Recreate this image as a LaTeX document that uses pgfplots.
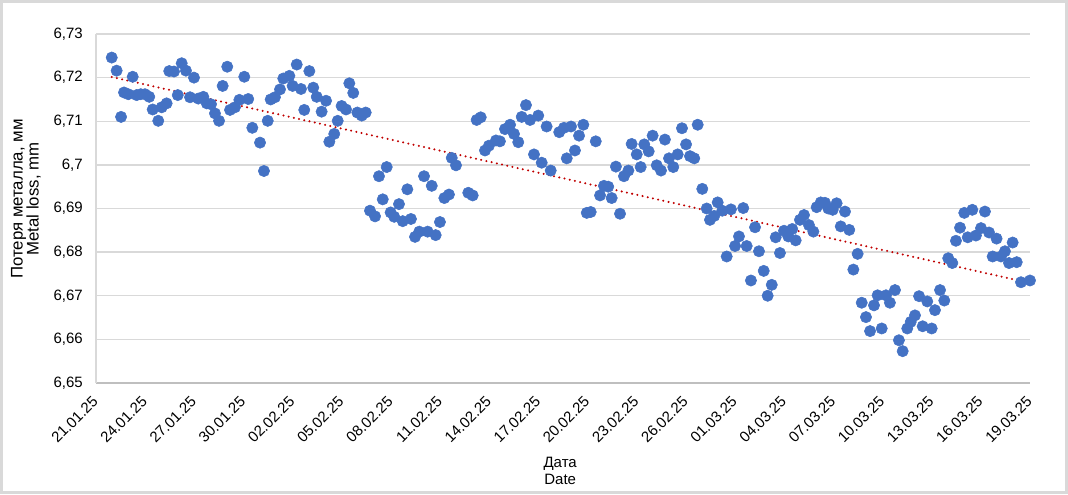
\documentclass[border=0pt]{standalone}
\usepackage{fontspec}
\setmainfont{Liberation Sans}
\usepackage{pgfplots}
\usepackage{pgfplotstable}
\pgfplotsset{compat=1.18}
\definecolor{mblue}{HTML}{4472C4}
\definecolor{trendred}{HTML}{C00000}
\definecolor{gridgray}{HTML}{D9D9D9}
\definecolor{axgray}{HTML}{BFBFBF}
\definecolor{framegray}{HTML}{D9D9D9}
\pgfplotstableread{
x y
0.96 6.7246
1.26 6.7216
1.53 6.7110
1.71 6.7166
1.97 6.7162
2.24 6.7202
2.48 6.7160
2.73 6.7162
2.99 6.7162
3.25 6.7156
3.46 6.7127
3.80 6.7101
4.01 6.7132
4.31 6.7141
4.47 6.7215
4.76 6.7214
4.99 6.7160
5.23 6.7233
5.49 6.7216
5.74 6.7155
5.98 6.7200
6.24 6.7152
6.55 6.7156
6.76 6.7141
7.02 6.7139
7.26 6.7118
7.51 6.7101
7.73 6.7181
8.01 6.7225
8.18 6.7126
8.48 6.7132
8.75 6.7149
9.05 6.7202
9.29 6.7151
9.54 6.7085
10.01 6.7051
10.25 6.6986
10.48 6.7101
10.66 6.7150
10.92 6.7155
11.23 6.7173
11.43 6.7198
11.80 6.7204
12.00 6.7181
12.25 6.7230
12.51 6.7174
12.71 6.7126
13.02 6.7215
13.26 6.7177
13.47 6.7156
13.77 6.7122
14.04 6.7147
14.24 6.7053
14.54 6.7071
14.75 6.7101
14.99 6.7135
15.26 6.7127
15.46 6.7187
15.70 6.7165
15.95 6.7120
16.22 6.7113
16.46 6.7120
16.72 6.6895
17.03 6.6882
17.27 6.6974
17.50 6.6921
17.74 6.6995
17.98 6.6891
18.20 6.6881
18.49 6.6910
18.72 6.6871
19.00 6.6944
19.22 6.6876
19.47 6.6835
19.73 6.6847
20.02 6.6974
20.24 6.6847
20.49 6.6952
20.73 6.6839
20.99 6.6869
21.26 6.6924
21.54 6.6932
21.71 6.7016
21.97 6.6999
22.72 6.6936
22.99 6.6930
23.23 6.7103
23.48 6.7109
23.74 6.7033
23.98 6.7044
24.41 6.7056
24.65 6.7054
24.96 6.7082
25.27 6.7092
25.51 6.7071
25.77 6.7052
25.98 6.7110
26.24 6.7137
26.49 6.7103
26.73 6.7024
26.99 6.7113
27.20 6.7005
27.50 6.7088
27.75 6.6987
28.27 6.7075
28.56 6.7085
28.73 6.7015
28.99 6.7088
29.23 6.7033
29.48 6.7067
29.74 6.7092
29.95 6.6890
30.19 6.6892
30.50 6.7054
30.76 6.6930
31.00 6.6952
31.26 6.6950
31.47 6.6924
31.73 6.6996
31.98 6.6888
32.22 6.6974
32.49 6.6987
32.69 6.7048
33.00 6.7024
33.24 6.6995
33.46 6.7047
33.73 6.7031
33.97 6.7067
34.22 6.6999
34.48 6.6987
34.72 6.7058
34.97 6.7015
35.23 6.6995
35.50 6.7024
35.76 6.7084
36.01 6.7047
36.25 6.7020
36.51 6.7015
36.72 6.7092
37.00 6.6945
37.27 6.6900
37.47 6.6874
37.73 6.6883
37.94 6.6914
38.22 6.6895
38.49 6.6790
38.75 6.6898
39.00 6.6814
39.24 6.6836
39.50 6.6901
39.71 6.6814
39.97 6.6735
40.22 6.6857
40.46 6.6802
40.75 6.6757
40.99 6.6700
41.24 6.6725
41.48 6.6834
41.74 6.6798
41.99 6.6849
42.25 6.6836
42.49 6.6853
42.70 6.6827
42.96 6.6874
43.21 6.6885
43.51 6.6862
43.78 6.6847
43.98 6.6903
44.23 6.6914
44.49 6.6913
44.69 6.6900
44.96 6.6897
45.20 6.6912
45.45 6.6859
45.71 6.6893
45.97 6.6851
46.22 6.6760
46.48 6.6796
46.73 6.6684
46.99 6.6651
47.24 6.6619
47.48 6.6678
47.70 6.6701
47.95 6.6625
48.21 6.6701
48.45 6.6684
48.76 6.6713
49.00 6.6598
49.23 6.6573
49.51 6.6625
49.72 6.6640
49.98 6.6655
50.23 6.6699
50.45 6.6630
50.73 6.6687
51.00 6.6625
51.20 6.6667
51.51 6.6713
51.77 6.6689
52.01 6.6786
52.26 6.6775
52.48 6.6826
52.73 6.6856
52.99 6.6890
53.20 6.6834
53.48 6.6897
53.70 6.6838
54.01 6.6855
54.25 6.6893
54.50 6.6845
54.72 6.6790
54.96 6.6831
55.23 6.6790
55.47 6.6802
55.72 6.6775
55.94 6.6822
56.19 6.6777
56.45 6.6731
57.00 6.6735
}\datatable
\begin{document}
\begin{tikzpicture}
\path[use as bounding box] (-72pt,-83.25pt) rectangle (729pt,287.25pt);
\draw[framegray, line width=2.6pt] (-70.7pt,-81.95pt) rectangle (727.7pt,285.95pt);
\begin{axis}[
  at={(0,0)}, anchor=south west,
  scale only axis, width=700.5pt, height=261.75pt,
  xmin=0, xmax=57, ymin=6.65, ymax=6.73,
  clip=false,
  axis x line*=bottom, axis y line*=left,
  x axis line style={axgray, line width=1pt},
  y axis line style={gridgray, line width=1pt},
  major tick length=0pt,
  ymajorgrids, grid style={gridgray, line width=1pt},
  xtick={0,3,6,9,12,15,18,21,24,27,30,33,36,39,42,45,48,51,54,57},
  xticklabels={21.01.25,24.01.25,27.01.25,30.01.25,02.02.25,05.02.25,08.02.25,11.02.25,14.02.25,17.02.25,20.02.25,23.02.25,26.02.25,01.03.25,04.03.25,07.03.25,10.03.25,13.03.25,16.03.25,19.03.25},
  ytick={6.65,6.66,6.67,6.68,6.69,6.70,6.71,6.72,6.73},
  yticklabels={{6,65},{6,66},{6,67},{6,68},{6,69},{6,7},{6,71},{6,72},{6,73}},
  /pgf/number format/assume math mode=true,
  tick label style={font=\fontsize{11.25}{13}\selectfont, text=black},
  xticklabel style={rotate=45, anchor=east, inner sep=0pt, xshift=-8.7pt, yshift=-8.0pt},
  yticklabel style={anchor=east, inner sep=0pt, xshift=-9.75pt},
  xlabel={Дата\\Date},
  ylabel={Потеря металла, мм\\Metal loss, mm},
  xlabel style={font=\fontsize{11.25}{12.5}\selectfont, align=center, text=black, at={(axis description cs:0.497,0)}, anchor=center, yshift=-66pt},
  ylabel style={font=\fontsize{12.6}{12}\selectfont, align=center, text=black, at={(axis description cs:-0.075,0.527)}, anchor=center},
]
\addplot[only marks, mark=*, mark size=4.25pt, mark options={fill=mblue, draw=mblue}] table[x=x, y=y] {\datatable};
\addplot[trendred, line width=1.7pt, dash pattern=on 0pt off 4pt, line cap=round] table[x=x, y={create col/linear regression={y=y}}] {\datatable};
\end{axis}
\end{tikzpicture}
\end{document}
